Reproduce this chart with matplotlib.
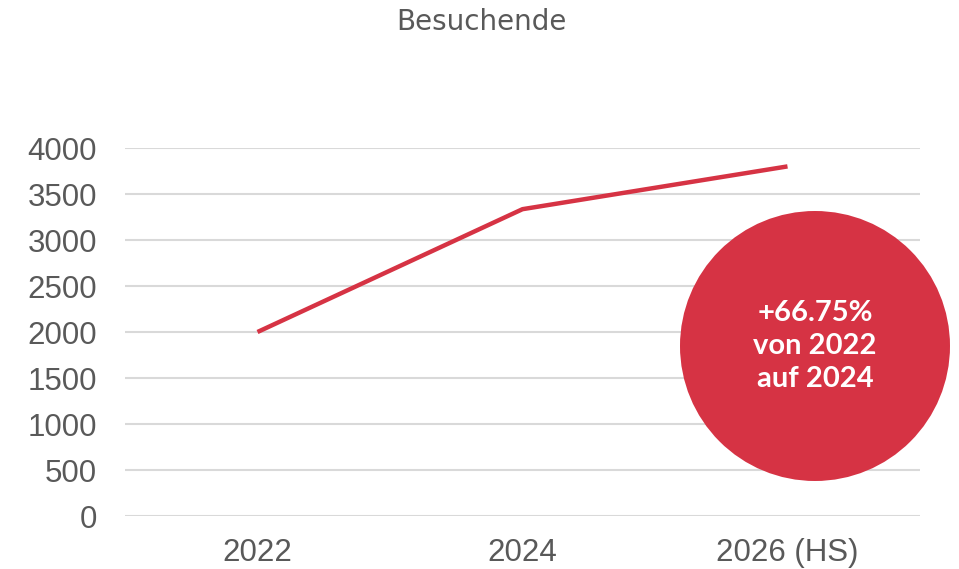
import matplotlib.pyplot as plt
from matplotlib.patches import Circle

# data
years = ["2022", "2024", "2026 (HS)"]
visitors = [2000, 3335, 3800]
y_ticks = [0, 500, 1000, 1500, 2000, 2500, 3000, 3500, 4000]
badge_text = "+66.75%\nvon 2022\nauf 2024"

red = "#D63344"
grey = "#595959"

fig = plt.figure(figsize=(9.59, 5.69), dpi=100)
ax = fig.add_axes([125 / 959, 1 - 516 / 569, 795 / 959, 368 / 569])

ax.plot(range(len(years)), visitors, color=red, linewidth=3.2,
        solid_capstyle="butt", zorder=3, clip_on=False)

ax.set_xlim(-0.5, len(years) - 0.5)
ax.set_ylim(0, 4000)
ax.set_xticks(range(len(years)))
ax.set_xticklabels(years)
ax.set_yticks(y_ticks)
ax.grid(axis="y", color="#D9D9D9", linewidth=1.5)
ax.set_axisbelow(True)
for s in ax.spines.values():
    s.set_visible(False)
ax.tick_params(length=0, labelsize=22.5, labelcolor=grey)
ax.tick_params(axis="y", pad=20)
ax.tick_params(axis="x", pad=16)
for lbl in ax.get_xticklabels() + ax.get_yticklabels():
    lbl.set_family("Liberation Sans")

fig.text(481 / 959, 1 - 22 / 569, "Besuchende", ha="center", va="center",
         fontsize=20, color=grey, family="DejaVu Sans")

# red badge circle
circ = Circle((8.15, 5.69 - 3.46), 1.35, transform=fig.dpi_scale_trans,
              facecolor=red, edgecolor="none", zorder=5)
fig.add_artist(circ)
fig.text(815 / 959, 1 - 346 / 569, badge_text, ha="center", va="center",
         fontsize=21, color="white", fontweight="bold", family="Lato",
         linespacing=1.32, zorder=6)

fig.savefig("out.png", dpi=100)
